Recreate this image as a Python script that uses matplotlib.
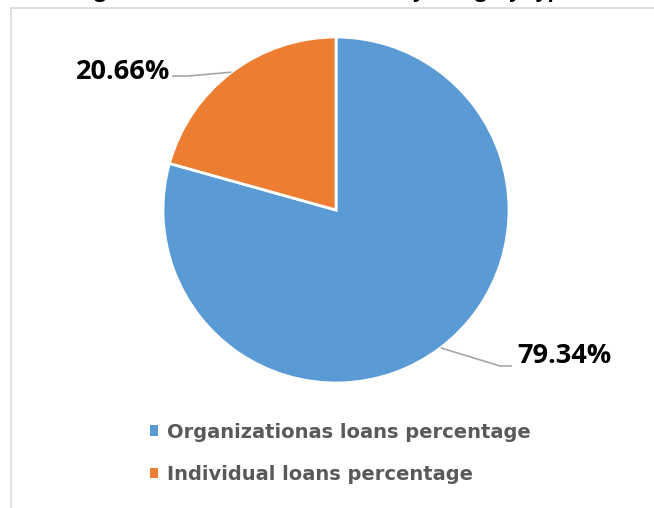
import numpy as np
import matplotlib
matplotlib.use("Agg")
import matplotlib.pyplot as plt
from matplotlib.lines import Line2D

# values
labels = ["Organizationas loans percentage", "Individual loans percentage"]
shares = [79.34, 20.66]
colors = ["#5b9bd5", "#ed7d31"]
title = "Agricultural loans distribution by category type"

W, H = 654, 508
CX, CY, R = 336, H - 210, 173  # pie centre / radius in pixels

plt.rcParams["font.family"] = ["Open Sans", "DejaVu Sans"]
fig = plt.figure(figsize=(W / 100, H / 100), dpi=100)
ax = fig.add_axes([0, 0, 1, 1])

wedges, _ = ax.pie(shares, colors=colors, startangle=90, counterclock=False,
                   radius=1, wedgeprops=dict(edgecolor="white", linewidth=2))
# pie() resets the limits, so set them afterwards
ax.set_xlim(-CX / R, (W - CX) / R)
ax.set_ylim(-CY / R, (H - CY) / R)
ax.set_aspect("auto")
ax.axis("off")

# chart frame (cut off on right / bottom in the original)
fig.add_artist(Line2D([10.5 / W, 10.5 / W], [0, 1 - 7.5 / H],
                      color="#d9d9d9", lw=1.2))
fig.add_artist(Line2D([10.5 / W, 1], [1 - 7.5 / H, 1 - 7.5 / H],
                      color="#d9d9d9", lw=1.2))

# title sits mostly above the visible area, as in the source image
fig.text(0.5, 1 + 3 / H, title, ha="center", va="baseline",
         fontsize=15, fontweight="bold", color="black")

# data labels with bent leader lines
def px(x, y):
    return ((x - CX) / R, ((H - y) - CY) / R)

lab_pos = [((517, 356), (512, 366), (500, 366), "left"),
           ((170, 72), (172, 76), (188, 76), "right")]
for w, v, (tpos, end, elbow, ha) in zip(wedges, shares, lab_pos):
    ang = np.deg2rad((w.theta1 + w.theta2) / 2)
    x0, y0 = np.cos(ang), np.sin(ang)
    ex, ey = px(*elbow)
    nx, ny = px(*end)
    ax.plot([x0, ex, nx], [y0, ey, ny], color="#a6a6a6", lw=1.2,
            solid_capstyle="butt")
    tx, ty = px(*tpos)
    ax.text(tx, ty, f"{v:.2f}%", ha=ha, va="center", fontsize=19.5,
            fontweight="bold", color="black")

leg = fig.legend(wedges, labels, loc="upper left",
                 bbox_to_anchor=(132 / W, 1 - 405 / H), frameon=False,
                 handlelength=0.45, handleheight=0.45, handletextpad=0.45,
                 labelspacing=1.2,
                 prop=dict(family="DejaVu Sans", size=14, weight="bold"),
                 labelcolor="#595959")
for h in leg.legend_handles:
    h.set_edgecolor("none")

fig.savefig("out.png", dpi=100)
